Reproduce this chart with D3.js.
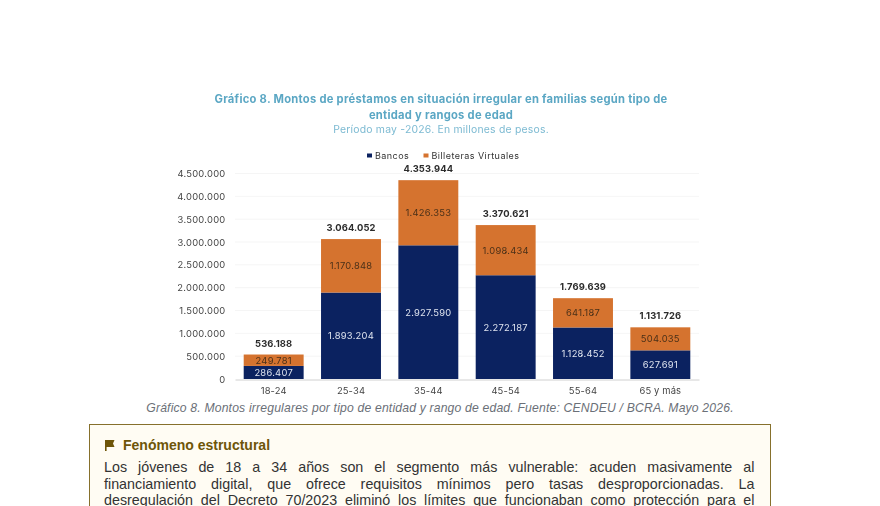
<!DOCTYPE html>
<html>
<head>
<meta charset="utf-8">
<script src="https://cdn.jsdelivr.net/npm/d3@7"></script>
<style>
	html, body { margin: 0; padding: 0; background: #fff; }
	body { width: 880px; height: 506px; overflow: hidden; position: relative; }
	#chart { position: absolute; left: 0; top: 0; filter: blur(0.35px); }
	.caption {
		position: absolute; left: 0; width: 880px; top: 401px; text-align: center;
		font: italic 12.2px "Liberation Sans", sans-serif; color: #6b7078; letter-spacing: .17px;
	}
	.note {
		position: absolute; left: 89px; top: 424px; width: 680px; height: 120px;
		border: 1.5px solid #86702c; background: #fffcf3; box-sizing: content-box;
	}
	.note h4 {
		position: absolute; left: 33px; top: 12px; margin: 0;
		font: bold 14px "Liberation Sans", sans-serif; color: #6e5508;
	}
	.note .flag { position: absolute; left: 15px; top: 14.5px; }
	.note p {
		position: absolute; left: 14px; top: 34px; width: 650.5px; margin: 0;
		font: 14.3px/16.5px "Liberation Sans", sans-serif; color: #333;
		text-align: justify; text-align-last: justify;
	}
</style>
</head>
<body>
<svg id="chart" width="880" height="506"></svg>
<div class="caption">Gráfico 8. Montos irregulares por tipo de entidad y rango de edad. Fuente: CENDEU / BCRA. Mayo 2026.</div>
<div class="note">
	<svg class="flag" width="10" height="11" viewBox="0 0 10 11"><path d="M0 0H9.5L8 3.5L9.5 7H1.6V11H0Z" fill="#6e5508"></path></svg>
	<h4>Fenómeno estructural</h4>
	<p>Los jóvenes de 18 a 34 años son el segmento más vulnerable: acuden masivamente al<br>financiamiento digital, que ofrece requisitos mínimos pero tasas desproporcionadas. La<br>desregulación del Decreto 70/2023 eliminó los límites que funcionaban como protección para el<br></p>
</div>
<script>
var categories = ["18-24", "25-34", "35-44", "45-54", "55-64", "65 y más"];
var bancos = [286407, 1893204, 2927590, 2272187, 1128452, 627691];
var billeteras = [249781, 1170848, 1426353, 1098434, 641187, 504035];
var totales = [536188, 3064052, 4353944, 3370621, 1769639, 1131726];
var yTicks = [0, 500000, 1000000, 1500000, 2000000, 2500000, 3000000, 3500000, 4000000, 4500000];
var seriesNames = ["Bancos", "Billeteras Virtuales"];

var svg = d3.select("#chart");
var NAVY = "#0b2260", ORANGE = "#d5732f", FONT = "Inter, Roboto, sans-serif";
var fmt = d3.formatLocale({decimal: ",", thousands: ".", grouping: [3], currency: ["$", ""]}).format(",d");

var x = d3.scaleBand().domain(categories).range([235, 699]).paddingInner(0.225).paddingOuter(0.1125);
var y = d3.scaleLinear().domain([0, 4500000]).range([379, 173.5]);

// Titles
var titles = svg.append("g").attr("text-anchor", "middle").attr("font-family", FONT);
titles.append("text").attr("x", 441).attr("y", 103).attr("font-size", 11.2).attr("font-weight", 700)
	.attr("letter-spacing", 0.27).attr("fill", "#5ba7c4")
	.text("Gráfico 8. Montos de préstamos en situación irregular en familias según tipo de");
titles.append("text").attr("x", 441).attr("y", 118.5).attr("font-size", 11.2).attr("font-weight", 700)
	.attr("letter-spacing", 0.27).attr("fill", "#5ba7c4").text("entidad y rangos de edad");
titles.append("text").attr("x", 441).attr("y", 133).attr("font-size", 10.4).attr("letter-spacing", 0.22)
	.attr("fill", "#7cbad2").text("Período may -2026. En millones de pesos.");

// Legend
var legend = svg.append("g").attr("font-family", FONT).attr("font-size", 9).attr("letter-spacing", 0.45).attr("fill", "#333");
[NAVY, ORANGE].forEach(function(color, i) {
	var lx = [367, 423.5][i];
	legend.append("rect").attr("x", lx).attr("y", 153.5).attr("width", 5).attr("height", 4).attr("fill", color);
	legend.append("text").attr("x", lx + 8).attr("y", 159).text(seriesNames[i]);
});

// Grid and axes
svg.append("g").selectAll("line").data(yTicks.slice(1)).join("line")
	.attr("x1", 235).attr("x2", 699)
	.attr("y1", function(d) { return y(d); }).attr("y2", function(d) { return y(d); })
	.attr("stroke", "#f3f3f3").attr("stroke-width", 0.8);

var yAxis = svg.append("g").attr("transform", "translate(225.5,0)")
	.call(d3.axisLeft(y).tickValues(yTicks).tickSize(0).tickPadding(0).tickFormat(fmt));
yAxis.select(".domain").remove();
yAxis.selectAll("text").attr("font-family", FONT).attr("font-size", 9.4).attr("letter-spacing", 0.25).attr("fill", "#444");

var xAxis = svg.append("g").attr("transform", "translate(0,379.5)")
	.call(d3.axisBottom(x).tickSize(0).tickPadding(7.5).tickFormat(function(d) { return d; }));
xAxis.select(".domain").attr("stroke", "#c4c4c4").attr("stroke-width", 0.8);
xAxis.selectAll("text").attr("font-family", FONT).attr("font-size", 9.4).attr("letter-spacing", 0.15).attr("fill", "#444");

// Bars
var bars = svg.append("g");
bars.selectAll(".banco").data(categories).join("rect").attr("class", "banco")
	.attr("x", function(d) { return x(d); }).attr("width", x.bandwidth())
	.attr("y", function(d, i) { return y(bancos[i]); })
	.attr("height", function(d, i) { return y(0) - y(bancos[i]); })
	.attr("fill", NAVY);
bars.selectAll(".billetera").data(categories).join("rect").attr("class", "billetera")
	.attr("x", function(d) { return x(d); }).attr("width", x.bandwidth())
	.attr("y", function(d, i) { return y(bancos[i] + billeteras[i]); })
	.attr("height", function(d, i) { return y(bancos[i]) - y(bancos[i] + billeteras[i]); })
	.attr("fill", ORANGE);

// Labels
var labels = svg.append("g").attr("font-family", FONT).attr("text-anchor", "middle").attr("font-size", 9.4).attr("letter-spacing", 0.25);
labels.selectAll(".l-banco").data(categories).join("text").attr("class", "l-banco")
	.attr("x", function(d) { return x(d) + x.bandwidth() / 2; })
	.attr("y", function(d, i) { return y(bancos[i] / 2) + 3.4; })
	.attr("fill", "#dfe4ef")
	.text(function(d, i) { return fmt(bancos[i]); });
labels.selectAll(".l-bill").data(categories).join("text").attr("class", "l-bill")
	.attr("x", function(d) { return x(d) + x.bandwidth() / 2; })
	.attr("y", function(d, i) { return y(bancos[i] + billeteras[i] / 2) + 3.4; })
	.attr("fill", "#4a3018")
	.text(function(d, i) { return fmt(billeteras[i]); });
labels.selectAll(".l-total").data(categories).join("text").attr("class", "l-total")
	.attr("x", function(d) { return x(d) + x.bandwidth() / 2; })
	.attr("y", function(d, i) { return y(totales[i]) - 8; })
	.attr("font-weight", 700).attr("letter-spacing", 0.1).attr("fill", "#2b2b2b")
	.text(function(d, i) { return fmt(totales[i]); });
</script>
</body>
</html>
